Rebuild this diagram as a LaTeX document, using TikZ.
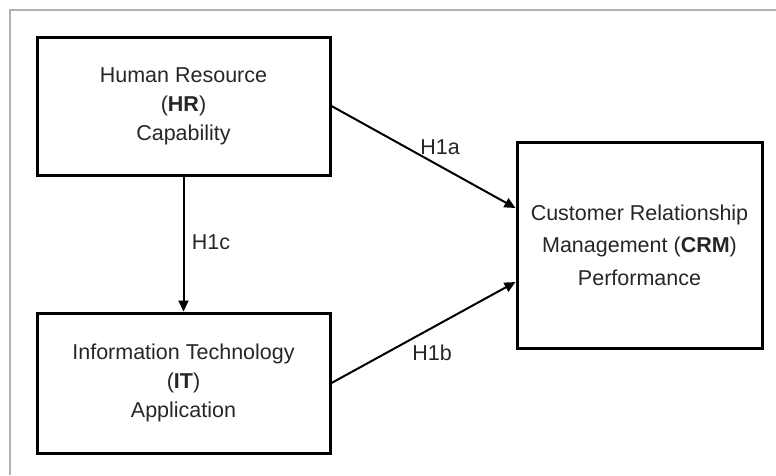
\documentclass[tikz,border=0pt]{standalone}
\usepackage{fontspec}
\setmainfont{Liberation Sans}
\usetikzlibrary{arrows.meta,calc}
\begin{document}
\begin{tikzpicture}[x=1pt,y=-1pt,
  box/.style={draw=black,line width=3pt,rectangle,align=center,inner sep=0pt,
    font=\fontsize{21.5}{29}\selectfont,text=black!85},
  lbl/.style={inner sep=0pt,font=\fontsize{21.5}{26}\selectfont,text=black!85},
  conn/.style={line width=2pt,-{Triangle[length=11pt,width=10pt]}}]
\useasboundingbox (0,0) rectangle (776,475);
\draw[gray!60,line width=1.6pt] (10,475) -- (10,10) -- (776,10);
\node[box,minimum width=293pt,minimum height=138pt] (hr) at (183.5,106) {Human Resource\\(\textbf{HR})\\Capability};
\node[box,minimum width=293pt,minimum height=140pt] (it) at (183.5,383) {Information Technology\\(\textbf{IT})\\Application};
\node[box,minimum width=245pt,minimum height=206pt,font=\fontsize{21.5}{32.5}\selectfont] (crm) at (639.5,245) {Customer Relationship\\Management (\textbf{CRM})\\Performance};
\coordinate (a1) at ($(crm.west)+(0,-37)$);
\coordinate (b1) at ($(crm.west)+(0,37)$);
\draw[conn] (hr.south) -- (it.north);
\draw[conn] (hr.east) -- (a1);
\draw[conn] (it.east) -- (b1);
\node[lbl] (h1a) at (440,147) {H1a};
\node[lbl] (h1b) at (432,353) {H1b};
\node[lbl] (h1c) at (211,242) {H1c};
\end{tikzpicture}
\end{document}
